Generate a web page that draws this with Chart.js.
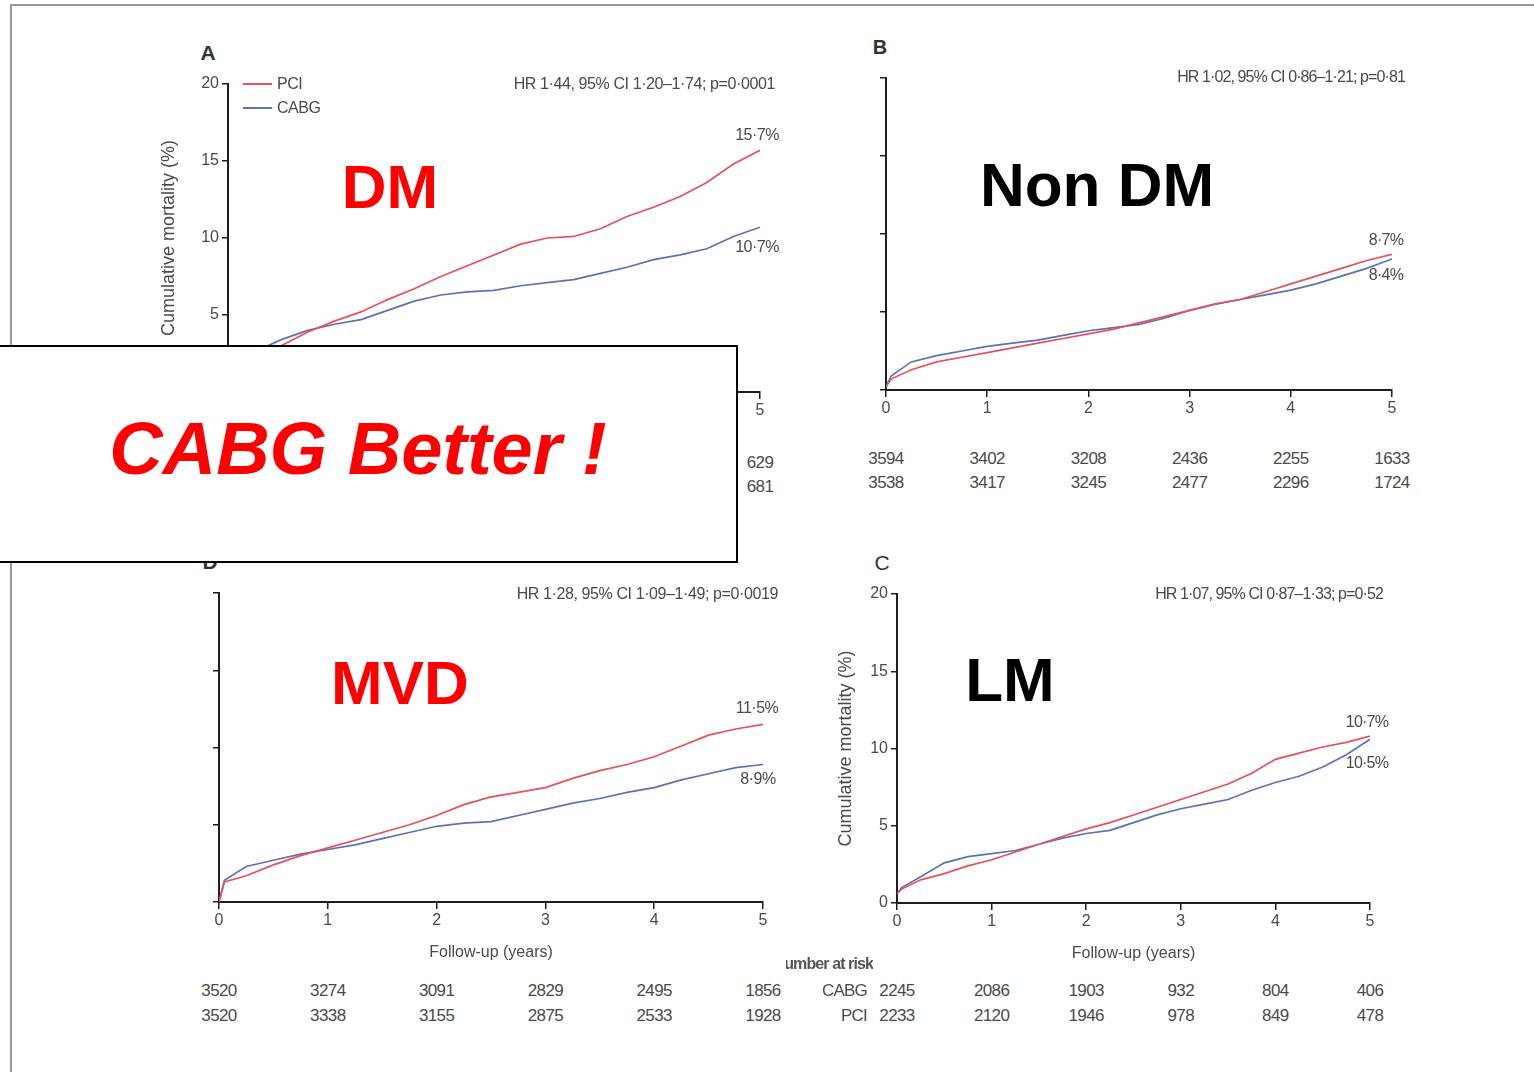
<!DOCTYPE html>
<html><head><meta charset="utf-8">
<script src="https://cdn.jsdelivr.net/npm/chart.js@4.4.1/dist/chart.umd.min.js"></script>
<style>
html,body{margin:0;padding:0;background:#fff}
body{width:1534px;height:1072px;position:relative;overflow:hidden;font-family:"Liberation Sans",Arial,sans-serif}
canvas{position:absolute;z-index:1}
.t{position:absolute;white-space:nowrap;color:#4a4a4a;z-index:2;line-height:1}
.big{position:absolute;white-space:nowrap;font-weight:bold;font-size:62px;line-height:1;z-index:6;font-family:"Liberation Sans",Arial,sans-serif}
#frame{position:absolute;left:10px;top:4px;width:1600px;height:1200px;border-left:2px solid #9a9a9a;border-top:2px solid #9a9a9a;z-index:0}
#box{position:absolute;left:-4px;top:345px;width:738px;height:214px;border:2px solid #000;background:#fff;z-index:5}
</style></head>
<body>
<div id="frame"></div>
<div id="box"></div>
<script>
// ---- data ----
const kmTimes = [0,0.05,0.25,0.5,0.75,1,1.25,1.5,1.75,2,2.25,2.5,2.75,3,3.25,3.5,3.75,4,4.25,4.5,4.75,5];
const dmPCI    = [0,0.9,2.0,3.0,3.9,4.6,5.2,6.0,6.7,7.5,8.2,8.9,9.6,10.0,10.1,10.6,11.4,12.0,12.7,13.6,14.8,15.7];
const dmCABG   = [0,1.2,2.6,3.4,4.0,4.4,4.7,5.3,5.9,6.3,6.5,6.6,6.9,7.1,7.3,7.7,8.1,8.6,8.9,9.3,10.1,10.7];
const nondmPCI = [0.2,0.7,1.3,1.8,2.1,2.4,2.7,3.0,3.3,3.6,3.9,4.3,4.7,5.1,5.5,5.8,6.3,6.8,7.3,7.8,8.3,8.7];
const nondmCABG= [0.2,0.9,1.8,2.2,2.5,2.8,3.0,3.2,3.5,3.8,4.0,4.2,4.6,5.1,5.5,5.8,6.1,6.4,6.8,7.3,7.8,8.4];
const mvdPCI   = [0,1.3,1.7,2.4,3.0,3.5,4.0,4.5,5.0,5.6,6.3,6.8,7.1,7.4,8.0,8.5,8.9,9.4,10.1,10.8,11.2,11.5];
const mvdCABG  = [0,1.4,2.3,2.7,3.1,3.4,3.7,4.1,4.5,4.9,5.1,5.2,5.6,6.0,6.4,6.7,7.1,7.4,7.9,8.3,8.7,8.9];
const lmPCI    = [0.6,0.9,1.5,1.9,2.4,2.8,3.3,3.8,4.3,4.8,5.2,5.7,6.2,6.7,7.2,7.7,8.4,9.3,9.7,10.1,10.4,10.8];
const lmCABG   = [0.6,1.0,1.7,2.6,3.0,3.2,3.4,3.8,4.2,4.5,4.7,5.2,5.7,6.1,6.4,6.7,7.3,7.8,8.2,8.8,9.6,10.6];
const yearTicks = [0,1,2,3,4,5];
const yTickVals = [0,5,10,15,20];
const riskDM_CABG = [null,null,null,null,null,'629'];
const riskDM_PCI  = [null,null,null,null,null,'681'];
const riskNonDM_CABG = ['3594','3402','3208','2436','2255','1633'];
const riskNonDM_PCI  = ['3538','3417','3245','2477','2296','1724'];
const riskMVD_CABG = ['3520','3274','3091','2829','2495','1856'];
const riskMVD_PCI  = ['3520','3338','3155','2875','2533','1928'];
const riskLM_CABG = ['2245','2086','1903','932','804','406'];
const riskLM_PCI  = ['2233','2120','1946','978','849','478'];

const RED = '#e8505c', BLUE = '#5b72b8', AX = '#1e1e1e', TXT = '#4a4a4a';
const FONT = '"Liberation Sans", Arial, sans-serif';

function txt(s, x, y, o = {}) {
  const d = document.createElement('div');
  d.className = o.cls || 't';
  d.textContent = s;
  d.style.left = x + 'px'; d.style.top = y + 'px';
  if (o.size) d.style.fontSize = o.size + 'px';
  if (o.color) d.style.color = o.color;
  if (o.weight) d.style.fontWeight = o.weight;
  if (o.style) d.style.fontStyle = o.style;
  if (o.ls) d.style.letterSpacing = o.ls + 'px';
  if (o.z) d.style.zIndex = o.z;
  const ax = o.align === 'right' ? '-100%' : (o.align === 'left' ? '0' : '-50%');
  d.style.transform = `translate(${ax},-50%)`;
  document.body.appendChild(d);
  return d;
}

function panel(p) {
  const cv = document.createElement('canvas');
  const W = p.right - p.left + p.padL + p.padR;
  const H = p.bottom - p.top + p.padT + p.padB;
  cv.width = W; cv.height = H;
  cv.style.left = (p.left - p.padL) + 'px';
  cv.style.top = (p.top - p.padT) + 'px';
  cv.style.width = W + 'px'; cv.style.height = H + 'px';
  document.body.appendChild(cv);
  const mk = (arr) => kmTimes.map((t, i) => ({x: t, y: arr[i]}));
  const chart = new Chart(cv, {
    type: 'line',
    data: {datasets: [
      {label: 'PCI', data: mk(p.pci), borderColor: RED, borderWidth: 1.7, pointRadius: 0, tension: 0, fill: false},
      {label: 'CABG', data: mk(p.cabg), borderColor: BLUE, borderWidth: 1.7, pointRadius: 0, tension: 0, fill: false}
    ]},
    options: {
      responsive: false, animation: false, devicePixelRatio: 1,
      layout: {padding: {top: p.padT, right: p.padR, left: 0, bottom: 0}},
      plugins: {legend: {display: false}, tooltip: {enabled: false}},
      scales: {
        x: {
          type: 'linear', min: 0, max: 5,
          afterBuildTicks: s => { s.ticks = yearTicks.map(v => ({value: v})); },
          afterFit: s => { s.height = p.padB; },
          border: {display: true, color: AX, width: 2},
          grid: {display: true, drawOnChartArea: false, drawTicks: true, tickLength: 7, color: AX, lineWidth: 1.5},
          ticks: {color: TXT, font: {family: FONT, size: 16}, padding: 2, maxRotation: 0},
          title: {display: !!p.xTitle, text: 'Follow-up (years)', color: TXT, font: {family: FONT, size: 16}, padding: {top: 4, bottom: 4}}
        },
        y: {
          type: 'linear', min: 0, max: 20,
          afterBuildTicks: s => { s.ticks = yTickVals.map(v => ({value: v})); },
          afterFit: s => { s.width = p.padL; },
          border: {display: true, color: AX, width: 2},
          grid: {display: true, drawOnChartArea: false, drawTicks: true, tickLength: 6, color: AX, lineWidth: 1.5},
          ticks: {color: TXT, font: {family: FONT, size: 16}, padding: 3, callback: v => p.yLabels ? String(v) : ''},
          title: {display: !!p.yTitle, text: 'Cumulative mortality (%)', color: TXT, font: {family: FONT, size: 18}, padding: {top: 3, bottom: 4}}
        }
      }
    }
  });
  const xs = chart.scales.x, offX = p.left - p.padL;
  const colX = i => offX + xs.getPixelForValue(yearTicks[i]);
  p.risk[0].forEach((v, i) => { if (v) txt(v, colX(i), p.riskY[0], {size: 17, ls: -0.6}); });
  p.risk[1].forEach((v, i) => { if (v) txt(v, colX(i), p.riskY[1], {size: 17, ls: -0.6}); });
  return chart;
}

panel({left: 228, right: 760, top: 84, bottom: 392, padL: 73, padR: 20, padT: 20, padB: 40,
  pci: dmPCI, cabg: dmCABG, yLabels: true, yTitle: true, xTitle: false,
  risk: [riskDM_CABG, riskDM_PCI], riskY: [462, 486]});
panel({left: 886, right: 1392, top: 78, bottom: 390, padL: 40, padR: 20, padT: 20, padB: 40,
  pci: nondmPCI, cabg: nondmCABG, yLabels: false, yTitle: false, xTitle: false,
  risk: [riskNonDM_CABG, riskNonDM_PCI], riskY: [458, 482]});
panel({left: 219, right: 763, top: 593, bottom: 902, padL: 40, padR: 20, padT: 20, padB: 64,
  pci: mvdPCI, cabg: mvdCABG, yLabels: false, yTitle: false, xTitle: true,
  risk: [riskMVD_CABG, riskMVD_PCI], riskY: [990, 1015]});
panel({left: 897, right: 1370, top: 594, bottom: 903, padL: 65, padR: 20, padT: 20, padB: 64,
  pci: lmPCI, cabg: lmCABG, yLabels: true, yTitle: true, xTitle: true,
  risk: [riskLM_CABG, riskLM_PCI], riskY: [990, 1015]});

// panel letters
txt('A', 208, 52, {size: 21, weight: 'bold', color: '#333'});
txt('B', 880, 47, {size: 20, weight: 'bold', color: '#333'});
txt('C', 882, 562, {size: 21, color: '#333'});
txt('D', 210, 561, {size: 21, weight: 'bold', color: '#333'});

// legend (panel A)
const lg = (c, y, s) => {
  const l = document.createElement('div');
  l.style.cssText = `position:absolute;left:243px;top:${y - 1}px;width:29px;height:2px;background:${c};z-index:2`;
  document.body.appendChild(l);
  txt(s, 277, y, {size: 16, align: 'left', ls: -0.5});
};
lg(RED, 84, 'PCI'); lg(BLUE, 108, 'CABG');

// HR texts
txt('HR 1·44, 95% CI 1·20–1·74; p=0·0001', 775, 84, {size: 16, align: 'right', ls: -0.4});
txt('HR 1·02, 95% CI 0·86–1·21; p=0·81', 1405, 77, {size: 16, align: 'right', ls: -0.9});
txt('HR 1·28, 95% CI 1·09–1·49; p=0·0019', 778, 594, {size: 16, align: 'right', ls: -0.4});
txt('HR 1·07, 95% CI 0·87–1·33; p=0·52', 1383, 594, {size: 16, align: 'right', ls: -0.9});

// end-of-curve labels
txt('15·7%', 757, 135, {size: 16, ls: -0.5});
txt('10·7%', 757, 247, {size: 16, ls: -0.5});
txt('8·7%', 1386, 240, {size: 16, ls: -0.7});
txt('8·4%', 1386, 275, {size: 16, ls: -0.7});
txt('11·5%', 757, 708, {size: 16, ls: -0.5});
txt('8·9%', 758, 779, {size: 16, ls: -0.5});
txt('10·7%', 1367, 722, {size: 16, ls: -0.8});
txt('10·5%', 1367, 763, {size: 16, ls: -0.8});

// number at risk header (clipped on the left as in the source)
const clip = document.createElement('div');
clip.style.cssText = 'position:absolute;left:786px;top:954px;width:87px;height:22px;overflow:hidden;z-index:2';
const nh = document.createElement('div');
nh.textContent = 'Number at risk';
nh.style.cssText = `position:absolute;right:0;top:2px;white-space:nowrap;font-size:16px;font-weight:bold;color:#555;letter-spacing:-0.9px;line-height:1;font-family:${FONT}`;
clip.appendChild(nh); document.body.appendChild(clip);
txt('CABG', 867, 990, {size: 17, align: 'right', ls: -0.8});
txt('PCI', 867, 1015, {size: 17, align: 'right', ls: -0.8});

// overlay labels
txt('DM', 390, 187, {cls: 'big', color: '#ff0000'});
txt('Non DM', 1097, 185, {cls: 'big', color: '#000'});
txt('MVD', 400, 683, {cls: 'big', color: '#ff0000'});
txt('LM', 1010, 680, {cls: 'big', color: '#000'});
txt('CABG Better !', 358, 449, {cls: 'big', color: '#ff0000', size: 74, style: 'italic'});
</script>
</body></html>
